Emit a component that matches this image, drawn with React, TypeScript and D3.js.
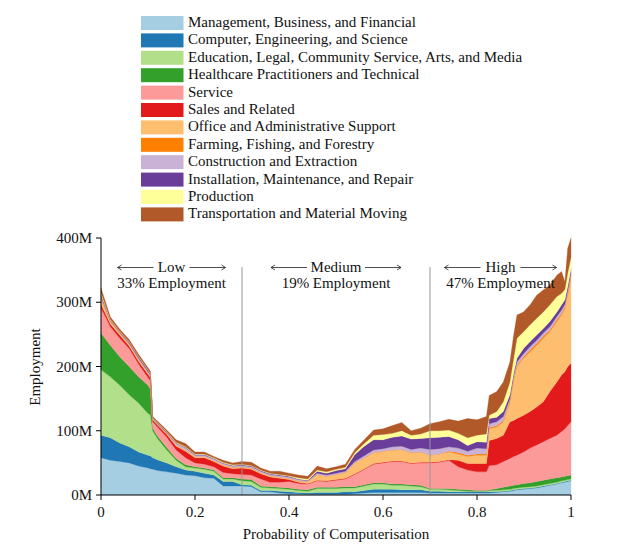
import React from 'react';
import * as d3 from 'd3';

const categories = [
  'Management, Business, and Financial',
  'Computer, Engineering, and Science',
  'Education, Legal, Community Service, Arts, and Media',
  'Healthcare Practitioners and Technical',
  'Service',
  'Sales and Related',
  'Office and Administrative Support',
  'Farming, Fishing, and Forestry',
  'Construction and Extraction',
  'Installation, Maintenance, and Repair',
  'Production',
  'Transportation and Material Moving',
];

const colors = ['#a6cee3', '#1f78b4', '#b2df8a', '#33a02c', '#fb9a99', '#e31a1c', '#fdbf6f', '#ff7f00', '#cab2d6', '#6a3d9a', '#ffff99', '#b15928'];

// probability of computerisation (x positions of samples)
const probs = [0, 0.02, 0.04, 0.06, 0.08, 0.10, 0.105, 0.11, 0.12, 0.14,
  0.16, 0.18, 0.20, 0.22, 0.24, 0.26, 0.28, 0.30, 0.32, 0.34,
  0.36, 0.38, 0.40, 0.42, 0.44, 0.46, 0.48, 0.50, 0.52, 0.54,
  0.56, 0.58, 0.60, 0.62, 0.64, 0.66, 0.68, 0.70, 0.72, 0.74,
  0.76, 0.78, 0.80, 0.82, 0.826, 0.842, 0.856, 0.870, 0.878, 0.885,
  0.899, 0.913, 0.927, 0.941, 0.955, 0.970, 0.980, 0.987, 0.993, 1.0];

// employment (millions) per occupation group at each sample
const management = [58,54,52,50,45,42,41,40,38,36, 34,31,30,27,26,14,14,14,13,5, 5,3,2,2,1,1,1,1,1,2, 3,4,4,4,4,4,4,3,3,3, 3,3,3,3,3,4,5,6,7,8, 9,10,11,13,15,17,19,20,21,22];
const computer = [35,35,29,25,22,20,20,18,17,14, 10,8,7,7,5,7,7,2,2,2, 2,3,3,2,2,3,3,3,4,3, 4,5,5,5,4,4,4,3,3,2, 2,2,2,2,2,1.5,1,1,1,1, 1,1,1,1,1,1,1,1,1,1];
const education = [102,95,90,81,76,65,64,42,33,20, 10,5,5,6,6,4,4,6,6,5, 4,4,4,3,3,6,6,6,6,6, 7,8,8,6,7,6,5,3,3,3, 2,1,1,1,2,2,2,2,2,2, 2,2,2,2,2,2,2,2,2,2];
const healthcare = [57,49,44,44,41,44,40,4,4,4, 3,3,2,2,2,2,2,3,3,2, 2,2,2,2,2,2,2,2,2,2, 2,2,2,2,2,2,2,1,1,2, 2,2,1,1,1,2.5,4,5,5,5, 6,6,7,7,7,7,6,6,6,6];
const service = [39,29,29,28,20,12,13,10,14,16, 13,11,6,6,5,8,6,7,7,11, 7,8,10,9,9,10,9,11,12,19, 24,29,31,35,35,33,35,40,41,44, 35,31,29,29,38,37,40,43,45,46, 49,54,57,60,63,66,71,74,78,83];
const sales = [6,4,5,4,4,5,5,3,3,4, 6,10,8,10,8,10,8,10,9,8, 8,6,3,2,1,1,1,1,1,1, 1,1,1,1,1,1,1,1,1,1, 10,10,13,13,39,41,41,57,56,57, 57,57,59,62,73,83,88,89,92,91];
const office = [8,4,3,3,3,2,2,1,1,2, 2,2,2,2,2,2,2,2,2,2, 2,2,2,2,3,9,7,8,9,17, 17,17,17,17,18,16,16,11,12,12, 10,11,13,13,18,18,21,31,64,81, 89,93,96,99,93,94,93,98,110,135];
const farming = [1,0,0,0,0,0,0,0,0,0, 0,0,0,0,0,0,0,0,0,0, 0,0,0,0,0,0,0,0,0,0, 0,0,0,0,0,0,0,0,0,1, 2,2,2,2,2,2,2,3,3,2, 2,3,3,3,3,3,3,3,3,3];
const construction = [3,1,1,1,2,2,2,1,1,1, 2,3,2,2,2,2,2,2,2,2, 2,2,2,2,1,2,2,2,2,2, 3,4,4,5,5,5,6,9,8,7, 7,6,9,8,6,6,6,2,3,5, 5,5,5,5,5,5,5,4,5,4];
const installation = [3,1,1,2,2,2,2,0,1,1, 1,1,1,1,1,1,1,1,1,1, 1,1,1,1,1,3,3,4,4,11, 15,16,14,15,16,16,15,18,18,16, 13,9,10,10,8,7,8,6,4,6, 8,8,8,7,8,7,8,7,7,5];
const production = [3,1,1,1,1,1,1,1,1,1, 1,1,1,1,1,1,1,1,1,1, 1,1,1,2,2,2,2,2,2,3, 4,7,8,6,8,6,7,11,10,10, 10,12,10,13,5,9,15,20,23,31, 26,26,26,26,26,24,18,16,20,18];
const transportation = [7,4,3,3,3,3,3,2,2,2, 4,5,3,3,2,3,3,4,5,3, 3,5,4,4,4,6,5,4,5,5, 6,8,9,12,13,7,9,11,14,17, 19,30,24,27,31,31,31,31,36,36, 31,31,36,34,31,33,34,12,39,30];

const seriesValues = [management, computer, education, healthcare, service, sales, office, farming, construction, installation, production, transportation];

const yTicks = [0, 100, 200, 300, 400];
const xTicks = [0, 0.2, 0.4, 0.6, 0.8, 1];
const bands = [
  { label: 'Low', share: '33% Employment', center: 0.15, half: 14 },
  { label: 'Medium', share: '19% Employment', center: 0.5, half: 25 },
  { label: 'High', share: '47% Employment', center: 0.85, half: 16 },
];
const thresholds = [0.3, 0.7];

const FONT = '"Liberation Serif", "Times New Roman", serif';

export default function App() {
  const x = d3.scaleLinear().domain([0, 1]).range([101, 571]);
  const y = d3.scaleLinear().domain([0, 400]).range([495, 238]);

  const rows = probs.map((p, i) => {
    const r: any = { p };
    categories.forEach((c, k) => { r[c] = seriesValues[k][i]; });
    return r;
  });
  const stacked = d3.stack<any>().keys(categories)(rows);
  const area = d3.area<any>()
    .x((d) => x(d.data.p))
    .y0((d) => y(d[0]))
    .y1((d) => y(d[1]))
    .curve(d3.curveLinear);

  const arrowLen = 36;
  const arrowY = 267.5;

  return (
    <svg width={625} height={554} style={{ position: 'absolute', left: 0, top: 0, background: '#fff' }} fontFamily={FONT}>
      <rect x={0} y={0} width={625} height={554} fill="#fff" />
      {/* legend */}
      {categories.map((c, i) => {
        const ry = 16 + i * 17.4;
        return (
          <g key={c}>
            <rect x={141} y={ry} width={42.5} height={14} fill={colors[i]} />
            <text x={188} y={ry + 11} fontSize={15} fill="#111">{c}</text>
          </g>
        );
      })}

      {/* stacked areas */}
      {stacked.map((s, i) => (
        <path key={s.key} d={area(s) || ''} fill={colors[i]} stroke={colors[i]} strokeWidth={0.3} />
      ))}

      {/* threshold lines */}
      {thresholds.map((t) => (
        <line key={t} x1={x(t)} x2={x(t)} y1={267} y2={495} stroke="#999" strokeWidth={1} />
      ))}

      {/* band annotations */}
      {bands.map((b) => {
        const cx = x(b.center);
        const l1 = cx - b.half - 4;
        const r1 = cx + b.half + 4;
        return (
          <g key={b.label} fill="none" stroke="#222" strokeWidth={0.8}>
            <line x1={l1 - arrowLen} x2={l1} y1={arrowY} y2={arrowY} />
            <path d={`M${l1 - arrowLen + 4},${arrowY - 2.5} L${l1 - arrowLen},${arrowY} L${l1 - arrowLen + 4},${arrowY + 2.5}`} />
            <line x1={r1} x2={r1 + arrowLen} y1={arrowY} y2={arrowY} />
            <path d={`M${r1 + arrowLen - 4},${arrowY - 2.5} L${r1 + arrowLen},${arrowY} L${r1 + arrowLen - 4},${arrowY + 2.5}`} />
            <text x={cx} y={271.5} fontSize={15} textAnchor="middle" fill="#111" stroke="none">{b.label}</text>
            <text x={cx} y={287.5} fontSize={15} textAnchor="middle" fill="#111" stroke="none">{b.share}</text>
          </g>
        );
      })}

      {/* y axis */}
      <line x1={101} x2={101} y1={238} y2={495} stroke="#000" strokeWidth={1} />
      {yTicks.map((t) => (
        <g key={t}>
          <line x1={96} x2={101} y1={y(t)} y2={y(t)} stroke="#000" strokeWidth={1} />
          <text x={92} y={y(t) + 5} fontSize={15} textAnchor="end" fill="#111">{`${t}M`}</text>
        </g>
      ))}
      <text transform="translate(40,367) rotate(-90)" fontSize={15} textAnchor="middle" fill="#111">Employment</text>

      {/* x axis */}
      <line x1={101} x2={571} y1={495} y2={495} stroke="#000" strokeWidth={1} />
      {xTicks.map((t) => (
        <g key={t}>
          <line x1={x(t)} x2={x(t)} y1={495} y2={500} stroke="#000" strokeWidth={1} />
          <text x={x(t)} y={517} fontSize={15} textAnchor="middle" fill="#111">{String(t)}</text>
        </g>
      ))}
      <text x={336} y={539} fontSize={15} textAnchor="middle" fill="#111">Probability of Computerisation</text>
    </svg>
  );
}
